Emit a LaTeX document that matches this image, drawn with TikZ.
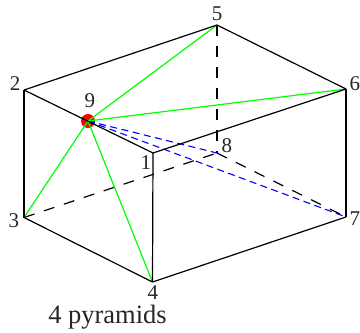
\documentclass[tikz,border=0pt]{standalone}
\usepackage{fontspec}
\setmainfont{Liberation Serif}
\begin{document}
\begin{tikzpicture}[x=1pt,y=-1pt,
  edge/.style={black,line width=1.2pt},
  hidden/.style={black,line width=1.2pt,dash pattern=on 11pt off 10pt},
  apex/.style={green,line width=1.2pt},
  inner/.style={blue,line width=1.1pt,dash pattern=on 7pt off 4.5pt},
  lab/.style={inner sep=0pt,font=\fontsize{21}{21}\selectfont,text=black!85}]
\useasboundingbox (0,0) rectangle (360,333);
\coordinate (p1) at (153,153);
\coordinate (p2) at (24,90);
\coordinate (p3) at (24,217.5);
\coordinate (p4) at (152.5,282);
\coordinate (p5) at (217,25);
\coordinate (p6) at (346,89);
\coordinate (p7) at (346,217);
\coordinate (p8) at (217,153);
\coordinate (p9) at (88,121);
\fill[red] (p9) circle (7);
\draw[hidden] (p5) -- (p8);
\draw[hidden] (p3) -- (p8);
\draw[hidden] (p8) -- (p7);
\draw[inner] (p9) -- (p8);
\draw[inner] (p9) -- (p7);
\draw[apex] (p9) -- (p5);
\draw[apex] (p9) -- (p6);
\draw[apex] (p9) -- (p3);
\draw[apex] (p9) -- (p4);
\draw[edge] (p2) -- (p1);
\draw[edge] (p1) -- (p4);
\draw[edge] (p2) -- (p3);
\draw[edge] (p3) -- (p4);
\draw[edge] (p4) -- (p7);
\draw[edge] (p7) -- (p6);
\draw[edge] (p6) -- (p5);
\draw[edge] (p5) -- (p2);
\draw[edge] (p1) -- (p6);
\node[lab] (l1) at (146,163) {1};
\node[lab] (l2) at (15,84) {2};
\node[lab] (l3) at (14,221) {3};
\node[lab] (l4) at (153,293) {4};
\node[lab] (l5) at (217,14) {5};
\node[lab] (l6) at (355,84) {6};
\node[lab] (l7) at (355,219) {7};
\node[lab] (l8) at (227,146) {8};
\node[lab] (l9) at (90,101) {9};
\node[lab,font=\fontsize{26.5}{26.5}\selectfont] (cap) at (107.5,317.5) {4 pyramids};
\end{tikzpicture}
\end{document}
